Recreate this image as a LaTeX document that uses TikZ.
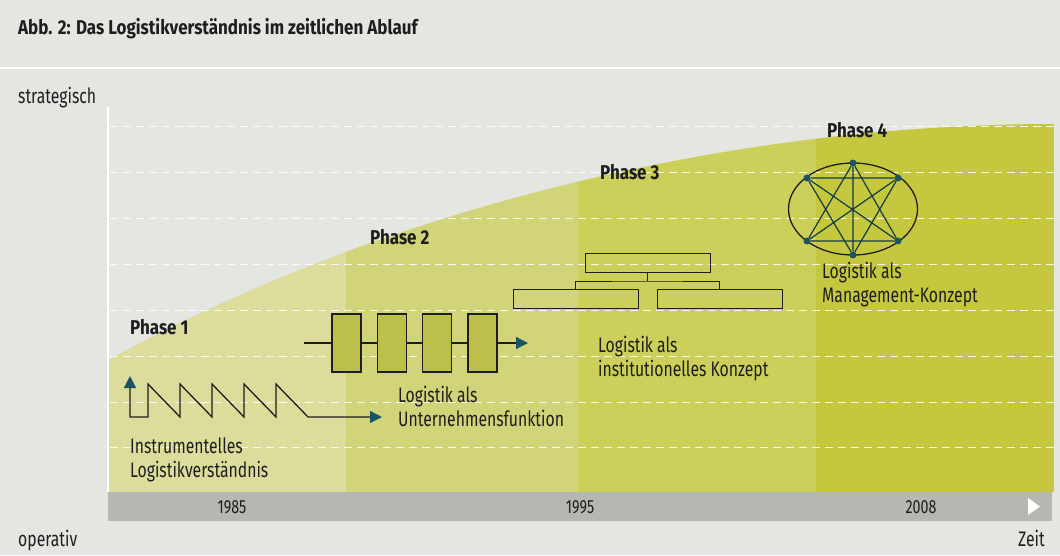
\documentclass[tikz,border=0pt]{standalone}
\usepackage{fontspec}
\setmainfont{Fira Sans}[FakeStretch=0.75,BoldFeatures={FakeStretch=0.85}]
\usepackage{xcolor}
\usetikzlibrary{arrows.meta,positioning,calc,shapes.geometric}
\definecolor{bggray}{RGB}{228,230,226}
\definecolor{bargray}{RGB}{180,184,176}
\definecolor{phaseone}{RGB}{220,221,156}
\definecolor{phasetwo}{RGB}{210,212,122}
\definecolor{phasethree}{RGB}{204,207,90}
\definecolor{phasefour}{RGB}{197,200,62}
\definecolor{boxolive}{RGB}{188,192,74}
\definecolor{arrowteal}{RGB}{28,84,100}
\definecolor{inkdark}{RGB}{30,30,30}
\tikzset{
  plaintext/.style={
    anchor=base west,inner sep=0pt,align=left,text=inkdark,
    font=\fontsize{21}{24}\selectfont
  },
  phasetext/.style={plaintext,font=\fontsize{20}{24}\selectfont\bfseries},
  yeartext/.style={anchor=center,inner sep=0pt,text=inkdark,
    font=\fontsize{19}{20}\selectfont},
  gridline/.style={draw=white,line width=1pt,dash pattern=on 8pt off 5pt,
    opacity=.85},
  iconline/.style={draw=inkdark,line width=1.3pt},
  tealtip/.tip={Triangle[length=12pt,width=12pt,color=arrowteal]},
  tealarrow/.style={-tealtip},
  chainbox/.style={iconline,fill=boxolive,minimum width=29pt,
    minimum height=58pt,inner sep=0pt},
  orgbox/.style={draw=inkdark,line width=1pt,minimum width=125pt,
    minimum height=19pt,inner sep=0pt},
  netdot/.style={circle,fill=arrowteal,inner sep=0pt,minimum size=7pt}
}

\begin{document}
\begin{tikzpicture}[x=1pt,y=-1pt]
  % background and frame
  \fill[bggray] (0,0) rectangle (1060,555);
  \useasboundingbox (0,0) rectangle (1060,555);
  \draw[white,line width=1.5pt] (0,68) -- (1060,68);
  \node[phasetext] (title) at (18,34)
    {Abb. 2: Das Logistikverständnis im zeitlichen Ablauf};

  % yellow area, four phases
  \begin{scope}
    \clip (108,492) -- (108,360) .. controls (400,200) and (750,124)
      .. (1054,124) -- (1054,492) -- cycle;
    \fill[phaseone] (108,100) rectangle (346,492);
    \fill[phasetwo] (346,100) rectangle (578,492);
    \fill[phasethree] (578,100) rectangle (816,492);
    \fill[phasefour] (816,100) rectangle (1054,492);
  \end{scope}
  \foreach \gy in {126,172,218,264,310,356,402,447}
    \draw[gridline] (110,\gy) -- (1054,\gy);
  \draw[white,line width=1.2pt] (108,107) -- (108,492);

  % time bar
  \fill[bargray] (108,492) rectangle (1052,521);
  \fill[white] (1028,498) -- (1040,506.5) -- (1028,515) -- cycle;
  \node[yeartext] (y1985) at (232,507) {1985};
  \node[yeartext] (y1995) at (580,507) {1995};
  \node[yeartext] (y2008) at (921,507) {2008};

  % axis texts
  \node[plaintext] (strat) at (18,103) {strategisch};
  \node[plaintext] (oper) at (18,546) {operativ};
  \node[plaintext,anchor=base east] (zeit) at (1045,546) {Zeit};

  % phase 1
  \node[phasetext] (ph1) at (130,334) {Phase 1};
  \draw[iconline,tealtip-tealtip]
    (130,376) -- (130,417) -- (148,417)
    \foreach \px in {148,180,212,244,276} { -- (\px,384) -- ({\px+32},417) }
    -- (382,417);
  \node[plaintext] (txt1) at (130,477)
    {Instrumentelles\\Logistikverständnis};

  % phase 2
  \node[phasetext] (ph2) at (370,244) {Phase 2};
  \node[chainbox] (c1) at (346.5,343) {};
  \node[chainbox,right=15pt of c1] (c2) {};
  \node[chainbox,right=15pt of c2] (c3) {};
  \node[chainbox,right=15pt of c3] (c4) {};
  \coordinate (chainin) at (304,343);
  \coordinate (chainout) at (528,343);
  \draw[iconline] (chainin) -- (c1);
  \draw[iconline] (c1) -- (c2);
  \draw[iconline] (c2) -- (c3);
  \draw[iconline] (c3) -- (c4);
  \draw[iconline,tealarrow] (c4) -- (chainout);
  \node[plaintext] (txt2) at (398,426) {Logistik als\\Unternehmensfunktion};

  % phase 3
  \node[phasetext] (ph3) at (600,179) {Phase 3};
  \node[orgbox] (orgtop) at (647.5,262.5) {};
  \node[orgbox] (orgleft) at (575.5,298.5) {};
  \node[orgbox] (orgright) at (719.5,298.5) {};
  \coordinate (orgjoin) at (647.5,281);
  \draw[inkdark,line width=1pt] (orgtop) -- (orgjoin);
  \draw[inkdark,line width=1pt] (orgleft.north) |- (orgjoin)
    -| (orgright.north);
  \node[plaintext] (txt3) at (598,376) {Logistik als\\institutionelles Konzept};

  % phase 4
  \node[phasetext] (ph4) at (827,137) {Phase 4};
  \node[ellipse,draw=inkdark,line width=1.3pt,minimum width=129pt,
    minimum height=92pt,inner sep=0pt] (ring) at (853,209) {};
  \node[netdot] (ntop) at (853,163) {};
  \node[netdot] (nbot) at (853,255) {};
  \node[netdot] (nul) at (807,178) {};
  \node[netdot] (nur) at (898,178) {};
  \node[netdot] (nll) at (807,241) {};
  \node[netdot] (nlr) at (898,241) {};
  \draw[draw=arrowteal!70!black,line width=1.2pt]
    (ntop) -- (nll) -- (nlr) -- (ntop) -- (nbot)
    (nbot) -- (nul) -- (nur) -- (nbot)
    (nul) -- (nlr) (nur) -- (nll);
  \node[plaintext] (txt4) at (822,302) {Logistik als\\Management-Konzept};
\end{tikzpicture}
\end{document}
